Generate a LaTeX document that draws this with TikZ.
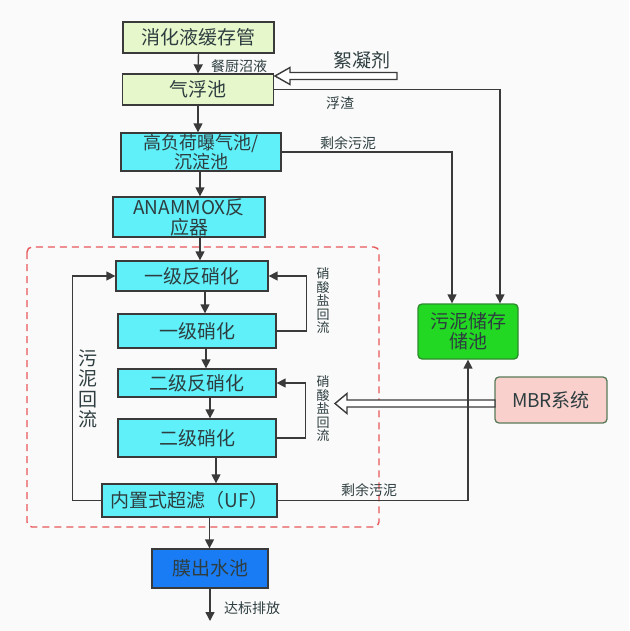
\documentclass[tikz,border=0pt]{standalone}
\usepackage{fontspec}
\setmainfont{Noto Sans CJK SC}
\usetikzlibrary{arrows.meta,calc}
\definecolor{bgc}{HTML}{FAFAFA}
\definecolor{lgreen}{HTML}{E6F7CC}
\definecolor{cyanb}{HTML}{60F0FA}
\definecolor{blueb}{HTML}{1A7CF5}
\definecolor{greenb}{HTML}{22D822}
\definecolor{greenline}{HTML}{2E8A2E}
\definecolor{pinkb}{HTML}{F9D0CC}
\definecolor{pinkline}{HTML}{5A7A5A}
\definecolor{redd}{HTML}{E8585A}
\definecolor{linec}{HTML}{3A3A3A}
\definecolor{textc}{HTML}{2E3E40}
\begin{document}
\begin{tikzpicture}[x=1pt,y=-1pt,
  box/.style={draw=linec, line width=1.3pt, inner sep=0pt, align=center, text=textc,
    font=\fontsize{19}{20}\selectfont},
  conn/.style={draw=linec, line width=1.4pt, -{Triangle[length=9pt,width=9pt]}},
  hollow/.style={draw=linec, line width=1.4pt, fill=white, line join=miter},
  lbl/.style={text=textc, inner sep=0pt, font=\fontsize{14}{16}\selectfont},
  vlbl/.style={text=textc, inner sep=0pt, align=center, font=\fontsize{13}{13.5}\selectfont},
  big/.style={text=textc, inner sep=0pt, align=center, font=\fontsize{19}{20.5}\selectfont}]
\useasboundingbox (0,0) rectangle (629,631);
\fill[bgc] (0,0) rectangle (629,631);

% dashed region
\draw[redd, line width=1.4pt, dash pattern=on 7pt off 5pt, rounded corners=5pt] (27,247) rectangle (379,527);

% boxes
\node[box, fill=lgreen, minimum width=151pt, minimum height=31pt] (b1) at (198.5,37.5) {消化液缓存管};
\node[box, fill=lgreen, minimum width=151pt, minimum height=31pt] (b2) at (198,89.5) {气浮池};
\node[box, fill=cyanb, minimum width=160pt, minimum height=38pt, font=\fontsize{18}{17.5}\selectfont] (b3) at (201,152) {高负荷曝气池/\\沉淀池};
\node[box, fill=cyanb, minimum width=152pt, minimum height=40pt] (b4) at (189,217) {ANAMMOX反\\应器};
\node[box, fill=cyanb, minimum width=152pt, minimum height=30pt] (b5) at (192,276) {一级反硝化};
\node[box, fill=cyanb, minimum width=158pt, minimum height=34pt] (b6) at (197,331) {一级硝化};
\node[box, fill=cyanb, minimum width=158pt, minimum height=28pt] (b7) at (197,383) {二级反硝化};
\node[box, fill=cyanb, minimum width=158pt, minimum height=38pt] (b8) at (197,438) {二级硝化};
\node[box, fill=cyanb, minimum width=175pt, minimum height=33pt] (b9) at (189.5,500.5) {内置式超滤（UF）};
\node[box, fill=blueb, minimum width=116pt, minimum height=39pt] (b10) at (210,568.5) {膜出水池};
\node[box, fill=greenb, draw=greenline, rounded corners=4pt, minimum width=100pt, minimum height=55pt] (sl) at (468,331.5) {污泥储存\\储池};
\node[box, fill=pinkb, draw=pinkline, rounded corners=4pt, minimum width=112pt, minimum height=46pt] (mbr) at (551,400) {MBR系统};

% main flow
\draw[conn] (b1.south) -- (b2.north);
\draw[conn] (b2.south) -- (b2.south |- b3.north);
\draw[conn] ([xshift=-1pt]b3.south) -- ([xshift=-1pt]b3.south |- b4.north);
\draw[conn] ([xshift=11pt]b4.south) -- ([xshift=11pt]b4.south |- b5.north);
\draw[conn] ([xshift=13pt]b5.south) -- ([xshift=13pt]b5.south |- b6.north);
\draw[conn] ([xshift=9pt]b6.south) -- ([xshift=9pt]b6.south |- b7.north);
\draw[conn] ([xshift=13pt]b7.south) -- ([xshift=13pt]b7.south |- b8.north);
\draw[conn] ([xshift=19pt]b8.south) -- ([xshift=19pt]b8.south |- b9.north);
\draw[conn] ([xshift=20pt]b9.south) -- ([xshift=20pt]b9.south |- b10.north);
\coordinate (out) at (210,621);
\draw[conn] (b10.south) -- (out);

% recirculation loops
\draw[conn] (b6.east) -- ++(30,0) |- (b5.east);
\draw[conn] (b8.east) -- ++(29,0) |- (b7.east);
\draw[conn] (b9.west) -- ++(-29,0) |- (b5.west);

% sludge lines
\draw[conn] (b2.east) -| ([xshift=32pt]sl.north);
\draw[conn] (b3.east) -| ([xshift=-16pt]sl.north);

% hollow arrows
\coordinate (ftip) at (275,76);
\draw[hollow] (ftip) -- ++(15,-8.5) -- ++(0,5) -- ++(107,0) -- ++(0,7) -- ++(-107,0) -- ++(0,5) -- cycle;
\coordinate (mtip) at (335,403.5);
\draw[hollow] (mtip) -- ++(12,-10) -- ++(0,6.5) -- ++(148,0) -- ++(0,7) -- ++(-148,0) -- ++(0,6.5) -- cycle;

\draw[conn] (b9.east) -| (sl.south);

% labels
\node[lbl] (l1) at (239,66) {餐厨沼液};
\node[big] (l2) at (362,60) {絮凝剂};
\node[lbl] (l3) at (340,103) {浮渣};
\node[lbl] (l4) at (348,143) {剩余污泥};
\node[lbl] (l5) at (369,490) {剩余污泥};
\node[lbl] (l6) at (252,608) {达标排放};
\node[vlbl] (l7) at (323,301) {硝\\酸\\盐\\回\\流};
\node[vlbl] (l8) at (323,409) {硝\\酸\\盐\\回\\流};
\node[big] (l9) at (88,389) {污\\泥\\回\\流};
\end{tikzpicture}
\end{document}
